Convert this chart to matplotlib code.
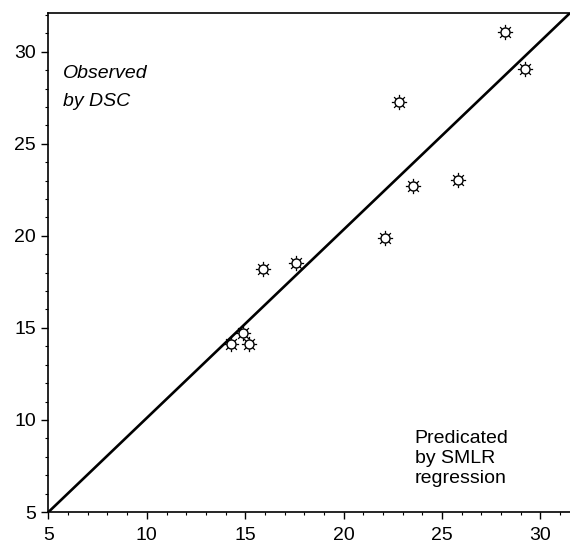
import matplotlib.pyplot as plt
import numpy as np
from matplotlib.path import Path
from matplotlib.ticker import MultipleLocator

# Predicted (SMLR) vs observed (DSC) values
predicted = [14.3, 14.9, 15.2, 15.9, 17.6, 22.1, 22.8, 23.5, 25.8, 28.2, 29.2]
observed = [14.1, 14.7, 14.1, 18.2, 18.55, 19.9, 27.25, 22.7, 23.05, 31.05, 29.05]

# reference line
line_x = [5, 31.5]
line_y = [5, 32.1]

plt.rcParams['font.family'] = ['Liberation Sans', 'DejaVu Sans']

# sun-like marker: short rays around a small ring
angles = np.arange(8) * np.pi / 4
verts = []
codes = []
for a in angles:
    verts += [(0.62 * np.cos(a), 0.62 * np.sin(a)), (np.cos(a), np.sin(a))]
    codes += [Path.MOVETO, Path.LINETO]
rays = Path(verts, codes)

fig = plt.figure(figsize=(5.70, 5.43), dpi=100)
ax = fig.add_axes([0.085, 0.057, 0.915, 0.919])

ax.plot(line_x, line_y, color='black', linewidth=1.9, solid_capstyle='butt')
ax.plot(predicted, observed, linestyle='none', marker=rays,
        markersize=11, color='black', markeredgewidth=0.9)
ax.plot(predicted, observed, linestyle='none', marker='o',
        markersize=6.5, markerfacecolor='white', markeredgecolor='black',
        markeredgewidth=1.0)

ax.set_xlim(5, 31.5)
ax.set_ylim(5, 32.1)

ax.xaxis.set_major_locator(MultipleLocator(5))
ax.yaxis.set_major_locator(MultipleLocator(5))
ax.xaxis.set_minor_locator(MultipleLocator(1))
ax.yaxis.set_minor_locator(MultipleLocator(1))

ax.tick_params(which='major', direction='out', length=5, width=1,
               labelsize=14)
ax.tick_params(which='minor', direction='out', length=2.5, width=0.8)
ax.tick_params(axis='x', which='major', pad=6)
ax.tick_params(axis='y', which='major', pad=4)

ax.spines['right'].set_visible(False)
for side in ['left', 'bottom', 'top']:
    ax.spines[side].set_linewidth(1.2)

ax.text(5.75, 29.3, 'Observed\nby DSC', fontsize=14, style='italic',
        linespacing=1.85, va='top', ha='left')
ax.text(23.6, 9.45, 'Predicated\nby SMLR\nregression', fontsize=14,
        linespacing=1.22, va='top', ha='left')

fig.savefig('out.png', dpi=100)
